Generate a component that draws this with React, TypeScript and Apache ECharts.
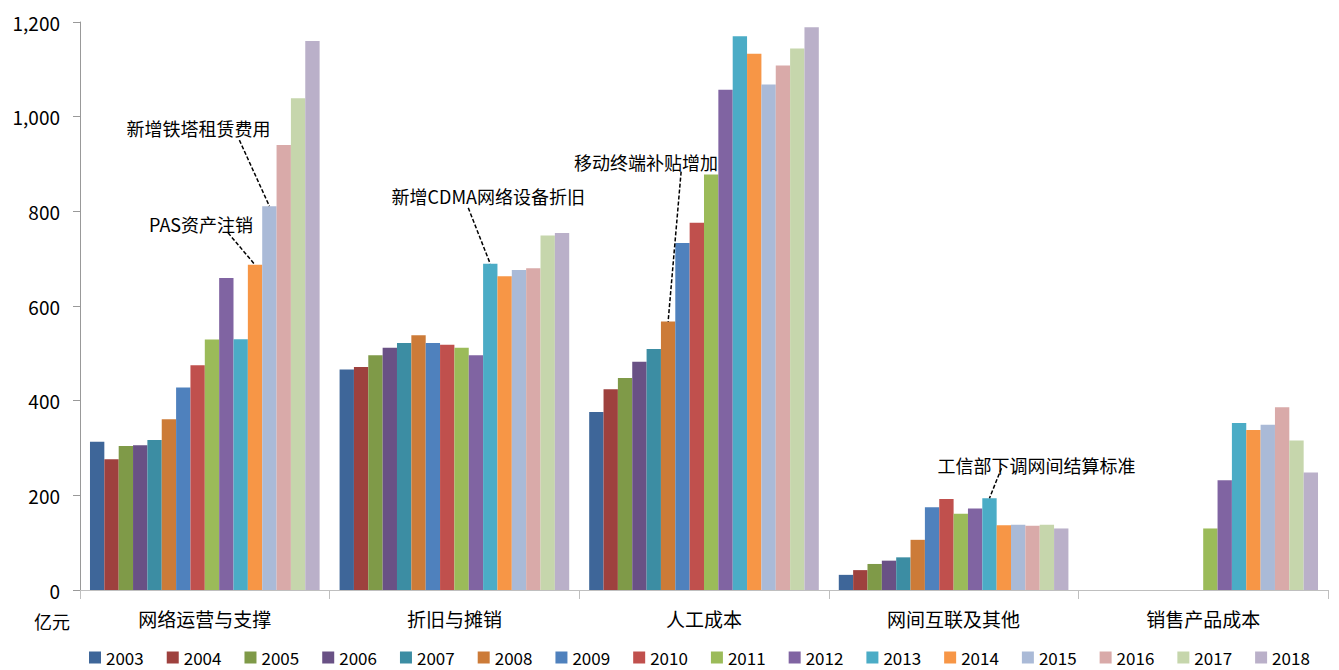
import React, { useEffect, useRef } from "react";
import * as echarts from "echarts";

const categories = ["网络运营与支撑", "折旧与摊销", "人工成本", "网间互联及其他", "销售产品成本"];
const years = ["2003", "2004", "2005", "2006", "2007", "2008", "2009", "2010", "2011", "2012", "2013", "2014", "2015", "2016", "2017", "2018"];

const v2003 = [313, 466, 376, 32, null];
const v2004 = [276, 471, 424, 42, null];
const v2005 = [304, 496, 448, 55, null];
const v2006 = [306, 512, 482, 62, null];
const v2007 = [317, 522, 509, 69, null];
const v2008 = [361, 538, 567, 106, null];
const v2009 = [428, 522, 733, 175, null];
const v2010 = [475, 518, 776, 192, null];
const v2011 = [529, 512, 878, 161, 130];
const v2012 = [659, 496, 1057, 172, 232];
const v2013 = [530, 689, 1170, 194, 353];
const v2014 = [687, 663, 1133, 137, 338];
const v2015 = [811, 676, 1068, 138, 349];
const v2016 = [940, 680, 1108, 136, 386];
const v2017 = [1039, 749, 1144, 138, 316];
const v2018 = [1160, 754, 1189, 130, 248];

const seriesValues = [v2003, v2004, v2005, v2006, v2007, v2008, v2009, v2010, v2011, v2012, v2013, v2014, v2015, v2016, v2017, v2018];

const colors = [
  "#3E6699", "#9E413E", "#7F9A48", "#695185", "#3C8DA3", "#CC7B38", "#4F81BD", "#C0504D",
  "#9BBB59", "#8064A2", "#4BACC6", "#F79646", "#AABAD7", "#D9AAA9", "#C6D6AC", "#BAB0C9",
];

const yTicks = [0, 200, 400, 600, 800, 1000, 1200];

// annotations: text, series index, category index, text offset from bar top, line start offset
const annotations = [
  { text: "新增铁塔租赁费用", s: 12, c: 0, tdx: -71, tdy: -78, ldx: -30, ldy: -66 },
  { text: "PAS资产注销", s: 11, c: 0, tdx: -54, tdy: -41, ldx: -27, ldy: -32 },
  { text: "新增CDMA网络设备折旧", s: 10, c: 1, tdx: -2, tdy: -68, ldx: -22, ldy: -56 },
  { text: "移动终端补贴增加", s: 5, c: 2, tdx: -22, tdy: -160, ldx: 13, ldy: -150 },
  { text: "工信部下调网间结算标准", s: 10, c: 3, tdx: 47, tdy: -33, ldx: 12, ldy: -30 },
];

const FONT = "'Noto Sans CJK SC', 'Noto Sans', sans-serif";

export default function App() {
  const ref = useRef<HTMLDivElement>(null);
  useEffect(() => {
    if (!ref.current) return;
    const chart = echarts.init(ref.current, null, { renderer: "svg" });
    chart.setOption({
      animation: false,
      color: colors,
      textStyle: { fontFamily: FONT },
      grid: { left: 80, right: 11, top: 22, bottom: 80, containLabel: false },
      legend: {
        bottom: -1,
        left: 84,
        width: 1300,
        itemWidth: 12,
        itemHeight: 12,
        itemGap: 23,
        icon: "rect",
        textStyle: { fontSize: 17, color: "#000", fontFamily: FONT },
        data: years,
      },
      xAxis: {
        type: "category",
        data: categories,
        axisLine: { show: true, lineStyle: { color: "#BFBFBF", width: 1 } },
        axisTick: { show: true, length: 9, interval: 0, lineStyle: { color: "#BFBFBF" } },
        axisLabel: { fontSize: 19, color: "#000", margin: 19, interval: 0 },
      },
      yAxis: {
        type: "value",
        min: yTicks[0],
        max: yTicks[yTicks.length - 1],
        interval: 200,
        splitLine: { show: false },
        axisLine: { show: true, lineStyle: { color: "#999999", width: 1 } },
        axisTick: { show: true, length: 7, lineStyle: { color: "#999999" } },
        axisLabel: {
          fontSize: 19,
          color: "#000",
          margin: 20,
          formatter: (v: number) => v.toLocaleString("en-US"),
        },
      },
      series: years.map((y, i) => ({
        name: y,
        type: "bar",
        data: seriesValues[i],
        barGap: "0%",
        barCategoryGap: "8%",
        itemStyle: { color: colors[i] },
      })),
    });

    const g: any[] = [
      { type: "text", left: 34, top: 612, style: { text: "亿元", fontSize: 18, fill: "#000", fontFamily: FONT } },
    ];
    const model: any = (chart as any).getModel();
    annotations.forEach((a) => {
      const s = model.getSeriesByIndex(a.s);
      const layout = s && s.getData().getItemLayout(a.c);
      if (!layout) return;
      const bx = layout.x + layout.width / 2;
      const by = layout.y + Math.min(0, layout.height);
      g.push({
        type: "line",
        shape: { x1: bx + a.ldx, y1: by + a.ldy, x2: bx, y2: by },
        style: { stroke: "#000", lineWidth: 1.5, lineDash: [4, 2] },
        z: 10,
      });
      g.push({
        type: "text",
        x: bx + a.tdx,
        y: by + a.tdy,
        style: {
          text: a.text,
          fontSize: 18,
          fill: "#000",
          fontFamily: FONT,
          align: "center",
          verticalAlign: "middle",
        },
        z: 10,
      });
    });
    chart.setOption({ graphic: g });

    return () => chart.dispose();
  }, []);
  return (
    <div
      ref={ref}
      style={{ position: "fixed", left: 0, top: 0, width: 1339, height: 670, background: "#fff" }}
    />
  );
}
